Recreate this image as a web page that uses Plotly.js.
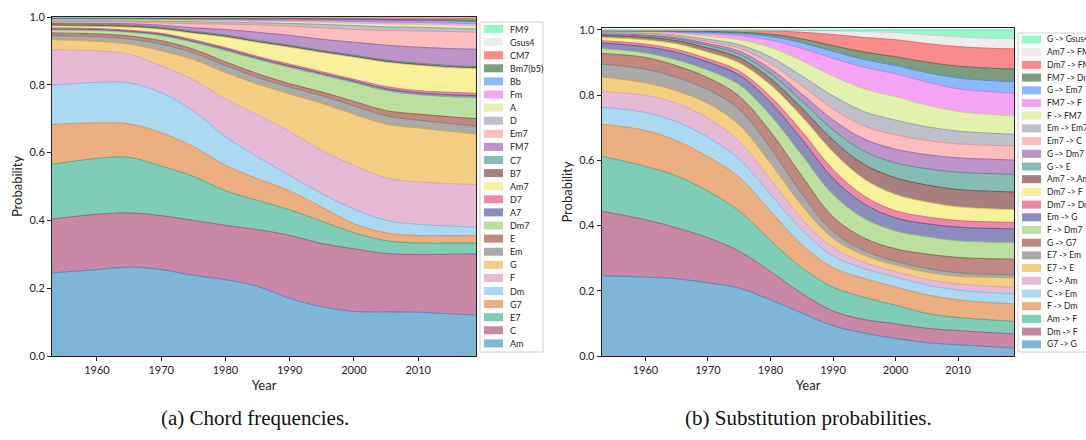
<!DOCTYPE html>
<html><head><meta charset="utf-8">
<script src="https://cdn.plot.ly/plotly-3.0.1.min.js"></script>
<style>html,body{margin:0;padding:0;background:#fff}#chart{width:1086px;height:440px}</style>
</head><body><div id="chart"></div>
<script>
// ---------- shared x values ----------
const years = [1953,1960,1965,1970,1975,1980,1985,1990,1995,2000,2005,2010,2015,2019];

// ---------- (a) Chord frequencies (bottom -> top) ----------
const chordNames = ['Am','C','E7','G7','Dm','F','G','Em','E','Dm7','A7','D7','Am7','B7','C7','FM7','Em7','D','A','Fm','Bb','Bm7(b5)','CM7','Gsus4','FM9'];
const freqAm    = [0.245,0.255,0.262,0.255,0.238,0.225,0.205,0.170,0.146,0.131,0.130,0.129,0.124,0.121];
const freqC     = [0.159,0.163,0.160,0.159,0.162,0.160,0.167,0.186,0.187,0.184,0.172,0.170,0.176,0.180];
const freqE7    = [0.161,0.165,0.164,0.146,0.130,0.102,0.086,0.075,0.066,0.047,0.038,0.034,0.033,0.032];
const freqG7    = [0.118,0.105,0.099,0.099,0.088,0.075,0.064,0.056,0.042,0.027,0.023,0.022,0.022,0.022];
const freqDm    = [0.116,0.119,0.121,0.118,0.105,0.084,0.064,0.045,0.040,0.043,0.037,0.033,0.028,0.025];
const freqF     = [0.104,0.093,0.084,0.079,0.092,0.111,0.124,0.130,0.128,0.128,0.125,0.125,0.125,0.126];
const freqG     = [0.030,0.028,0.030,0.044,0.059,0.078,0.090,0.111,0.139,0.150,0.158,0.159,0.154,0.148];
const freqEm    = [0.012,0.014,0.015,0.020,0.020,0.021,0.020,0.020,0.023,0.025,0.025,0.023,0.023,0.024];
const freqE     = [0.008,0.008,0.009,0.010,0.011,0.011,0.011,0.010,0.011,0.013,0.015,0.018,0.020,0.022];
const freqDm7   = [0.009,0.010,0.011,0.015,0.020,0.033,0.042,0.048,0.050,0.055,0.059,0.057,0.059,0.062];
const freqA7    = [0.003,0.003,0.003,0.004,0.004,0.005,0.005,0.005,0.005,0.005,0.006,0.006,0.006,0.006];
const freqD7    = [0.003,0.003,0.003,0.003,0.004,0.004,0.004,0.005,0.005,0.005,0.006,0.006,0.007,0.007];
const freqAm7   = [0.006,0.006,0.009,0.012,0.019,0.031,0.041,0.050,0.057,0.065,0.072,0.075,0.073,0.073];
const freqB7    = [0.003,0.003,0.003,0.003,0.003,0.003,0.003,0.003,0.003,0.003,0.003,0.003,0.003,0.003];
const freqC7    = [0.003,0.003,0.003,0.003,0.003,0.003,0.003,0.003,0.003,0.003,0.003,0.003,0.003,0.003];
const freqFM7   = [0.002,0.003,0.004,0.006,0.010,0.016,0.024,0.029,0.033,0.038,0.044,0.047,0.050,0.051];
const freqEm7   = [0.003,0.004,0.005,0.007,0.012,0.016,0.022,0.027,0.034,0.038,0.043,0.048,0.050,0.050];
const freqD     = [0.004,0.004,0.004,0.005,0.006,0.006,0.006,0.008,0.010,0.011,0.011,0.011,0.010,0.010];
const freqA     = [0.003,0.003,0.003,0.003,0.004,0.004,0.004,0.005,0.006,0.007,0.008,0.008,0.009,0.009];
const freqFm    = [0.002,0.002,0.002,0.002,0.002,0.003,0.003,0.004,0.005,0.005,0.006,0.006,0.006,0.006];
const freqBb    = [0.002,0.002,0.002,0.002,0.002,0.002,0.003,0.003,0.003,0.004,0.005,0.005,0.006,0.006];
const freqBm7b5 = [0.001,0.001,0.001,0.002,0.002,0.002,0.003,0.003,0.003,0.003,0.003,0.003,0.004,0.004];
const freqCM7   = [0.001,0.001,0.001,0.001,0.002,0.002,0.002,0.002,0.003,0.003,0.004,0.004,0.004,0.005];
const freqGsus4 = [0.001,0.001,0.001,0.001,0.001,0.001,0.001,0.001,0.001,0.002,0.002,0.002,0.002,0.003];
const freqFM9   = [0.001,0.001,0.001,0.001,0.001,0.001,0.001,0.001,0.001,0.001,0.001,0.002,0.002,0.002];
const chordSeries = [freqAm,freqC,freqE7,freqG7,freqDm,freqF,freqG,freqEm,freqE,freqDm7,freqA7,freqD7,freqAm7,freqB7,freqC7,freqFM7,freqEm7,freqD,freqA,freqFm,freqBb,freqBm7b5,freqCM7,freqGsus4,freqFM9];

// ---------- (b) Substitution probabilities (bottom -> top) ----------
const subNames = ['G7 -> G','Dm -> F','Am -> F','F -> Dm','C -> Em','C -> Am','E7 -> E','E7 -> Em','G -> G7','F -> Dm7','Em -> G','Dm7 -> Dm','Dm7 -> F','Am7 -> Am','G -> E','G -> Dm7','Em7 -> C','Em -> Em7','F -> FM7','FM7 -> F','G -> Em7','FM7 -> Dm','Dm7 -> FM7','Am7 -> FM7','G -> Gsus4'];
const subG7_G    = [0.246,0.242,0.237,0.224,0.208,0.172,0.131,0.093,0.070,0.054,0.041,0.034,0.029,0.024];
const subDm_F    = [0.198,0.176,0.156,0.138,0.113,0.087,0.060,0.045,0.042,0.045,0.044,0.044,0.043,0.044];
const subAm_F    = [0.169,0.164,0.159,0.143,0.123,0.095,0.078,0.073,0.068,0.057,0.046,0.040,0.039,0.038];
const subF_Dm    = [0.098,0.110,0.108,0.105,0.104,0.090,0.070,0.060,0.058,0.056,0.057,0.054,0.053,0.054];
const subC_Em    = [0.052,0.055,0.058,0.060,0.055,0.052,0.045,0.036,0.030,0.030,0.030,0.030,0.030,0.031];
const subC_Am    = [0.048,0.053,0.057,0.058,0.055,0.045,0.035,0.026,0.019,0.017,0.017,0.019,0.020,0.020];
const subE7_E    = [0.045,0.038,0.038,0.045,0.050,0.050,0.040,0.028,0.022,0.020,0.022,0.023,0.027,0.028];
const subE7_Em   = [0.039,0.042,0.041,0.043,0.048,0.046,0.036,0.021,0.015,0.012,0.012,0.011,0.010,0.010];
const subG_G7    = [0.033,0.036,0.036,0.036,0.040,0.050,0.054,0.045,0.038,0.038,0.044,0.047,0.047,0.048];
const subF_Dm7   = [0.015,0.014,0.018,0.023,0.035,0.050,0.064,0.068,0.060,0.055,0.053,0.051,0.051,0.050];
const subEm_G    = [0.017,0.019,0.023,0.025,0.030,0.040,0.048,0.050,0.045,0.040,0.040,0.042,0.042,0.043];
const subDm7_Dm  = [0.007,0.008,0.009,0.010,0.012,0.018,0.024,0.027,0.024,0.022,0.021,0.020,0.020,0.020];
const subDm7_F   = [0.010,0.013,0.017,0.020,0.025,0.035,0.045,0.054,0.052,0.050,0.046,0.042,0.040,0.039];
const subAm7_Am  = [0.006,0.008,0.010,0.013,0.016,0.020,0.026,0.036,0.045,0.051,0.052,0.053,0.054,0.054];
const subG_E     = [0.003,0.004,0.005,0.008,0.011,0.016,0.022,0.032,0.040,0.046,0.050,0.053,0.054,0.054];
const subG_Dm7   = [0.003,0.003,0.004,0.006,0.009,0.014,0.021,0.030,0.038,0.042,0.043,0.044,0.044,0.044];
const subEm7_C   = [0.002,0.003,0.004,0.006,0.009,0.016,0.025,0.034,0.040,0.044,0.044,0.043,0.043,0.043];
const subEm_Em7  = [0.002,0.003,0.004,0.007,0.011,0.020,0.030,0.040,0.044,0.045,0.042,0.039,0.037,0.036];
const subF_FM7   = [0.002,0.003,0.005,0.009,0.015,0.029,0.046,0.060,0.070,0.072,0.066,0.060,0.057,0.056];
const subFM7_F   = [0.001,0.002,0.004,0.008,0.013,0.023,0.038,0.055,0.066,0.071,0.071,0.070,0.070,0.070];
const subG_Em7   = [0.001,0.001,0.002,0.004,0.006,0.011,0.017,0.021,0.024,0.025,0.029,0.033,0.034,0.035];
const subFM7_Dm  = [0.001,0.001,0.002,0.003,0.004,0.007,0.012,0.018,0.023,0.027,0.032,0.036,0.038,0.039];
const subDm7_FM7 = [0.001,0.001,0.002,0.003,0.005,0.010,0.020,0.034,0.045,0.052,0.057,0.060,0.061,0.062];
const subAm7_FM7 = [0.0005,0.001,0.0007,0.001,0.0015,0.002,0.005,0.011,0.018,0.022,0.027,0.030,0.031,0.032];
const subG_Gsus4 = [0.0005,0.0005,0.0003,0.0005,0.0005,0.001,0.002,0.003,0.005,0.008,0.015,0.021,0.025,0.026];
const subSeries = [subG7_G,subDm_F,subAm_F,subF_Dm,subC_Em,subC_Am,subE7_E,subE7_Em,subG_G7,subF_Dm7,subEm_G,subDm7_Dm,subDm7_F,subAm7_Am,subG_E,subG_Dm7,subEm7_C,subEm_Em7,subF_FM7,subFM7_F,subG_Em7,subFM7_Dm,subDm7_FM7,subAm7_FM7,subG_Gsus4];

// ---------- styling ----------
const fills = ['#7fb5d7','#c887a4','#7fcdb6','#ebae80','#abd9f2','#e6bad5','#f2cd82','#a9a9a9','#c0897f','#bbdf9f',
               '#8b8bbd','#eb8aa6','#f8f19c','#a87e7e','#85bcb5','#bd94c9','#fcbdbd','#bfbfc9','#e2f2ae','#f5a3f5',
               '#8cb9fb','#7e9c7e','#fa8b8b','#ececec','#95f8c6'];
const lines = ['#3a78b0','#94486f','#4a9a70','#cf8650','#74aedb','#d297ba','#cf9f3f','#747474','#854a41','#86b665',
               '#45458a','#c65275','#d2c657','#5e3838','#3f7d75','#84559b','#e08686','#8a8a9e','#bcd27a','#d565d5',
               '#4480d6','#3f5f3f','#d45252','#c8c8c8','#58d494'];
const FONT = 'Lato,"Open Sans",sans-serif';
const W = 1086, H = 440;
const px = v => v / W, py = v => 1 - v / H;

const traces = [];
function addStack(names, series, xa, ya, group) {
  series.forEach((vals, i) => {
    const t = {
      type: 'scatter', mode: 'lines', x: years, y: vals, name: names[i],
      xaxis: xa, yaxis: ya, stackgroup: group,
      line: {color: lines[i], width: 0.8, shape: 'spline', smoothing: 1},
      fillcolor: fills[i], showlegend: false, hoverinfo: 'skip'
    };
    if (i === 0) t.groupnorm = 'fraction';
    traces.push(t);
  });
}
addStack(chordNames, chordSeries, 'x', 'y', 'a');
addStack(subNames, subSeries, 'x2', 'y2', 'b');

function axisBase() {
  return {
    showline: true, mirror: true, linecolor: '#222', linewidth: 1,
    ticks: 'outside', ticklen: 4, tickwidth: 1, tickcolor: '#222',
    showgrid: false, zeroline: false, automargin: false,
    tickfont: {family: FONT, size: 11, color: '#222'}
  };
}
const titleFont = {family: FONT, size: 13, color: '#222'};
const xA = Object.assign(axisBase(), {domain: [px(52), px(476)], range: [1953, 2019], anchor: 'y',
  tickvals: [1960,1970,1980,1990,2000,2010], title: {text: 'Year', font: titleFont, standoff: 5}});
const yA = Object.assign(axisBase(), {domain: [py(356), py(17)], range: [0, 1], anchor: 'x',
  tickvals: [0,0.2,0.4,0.6,0.8,1.0], tickformat: '.1f', title: {text: 'Probability', font: titleFont, standoff: 3}});
const xB = Object.assign(axisBase(), {domain: [px(601.7), px(1014.3)], range: [1953, 2019], anchor: 'y2',
  tickvals: [1960,1970,1980,1990,2000,2010], title: {text: 'Year', font: titleFont, standoff: 5}});
const yB = Object.assign(axisBase(), {domain: [py(356), py(28)], range: [0, 1.006], anchor: 'x2',
  tickvals: [0,0.2,0.4,0.6,0.8,1.0], tickformat: '.1f', title: {text: 'Probability', font: titleFont, standoff: 3}});

const shapes = [], annotations = [];
function addLegend(names, x0, x1, top, bottom, firstY, step, swL, swR, textX, fsize) {
  shapes.push({type: 'rect', xref: 'paper', yref: 'paper', x0: px(x0), x1: px(x1), y0: py(bottom), y1: py(top),
    line: {color: '#d0d0d0', width: 1}, fillcolor: '#ffffff', layer: 'above'});
  const n = names.length;
  for (let k = 0; k < n; k++) {
    const i = n - 1 - k;
    const yc = firstY + step * k;
    shapes.push({type: 'rect', xref: 'paper', yref: 'paper', x0: px(swL), x1: px(swR), y0: py(yc + 4), y1: py(yc - 4),
      line: {width: 0}, fillcolor: fills[i], layer: 'above'});
    annotations.push({xref: 'paper', yref: 'paper', x: px(textX), y: py(yc), xanchor: 'left', yanchor: 'middle',
      text: names[i], showarrow: false, font: {family: FONT, size: fsize, color: '#222'}});
  }
}
addLegend(chordNames, 480, 543, 22, 352, 29, 13.1, 484, 503, 508, 9);
addLegend(subNames, 1018, 1100, 33, 352, 39.5, 12.7, 1022, 1041, 1045, 8.5);

const capFont = {family: '"Liberation Serif","DejaVu Serif",serif', size: 21, color: '#111'};
annotations.push({xref: 'paper', yref: 'paper', x: px(255), y: py(418), xanchor: 'center', yanchor: 'middle',
  text: '(a) Chord frequencies.', showarrow: false, font: capFont});
annotations.push({xref: 'paper', yref: 'paper', x: px(808), y: py(418), xanchor: 'center', yanchor: 'middle',
  text: '(b) Substitution probabilities.', showarrow: false, font: capFont});

const layout = {
  width: W, height: H, margin: {l: 0, r: 0, t: 0, b: 0},
  paper_bgcolor: '#ffffff', plot_bgcolor: '#ffffff', showlegend: false,
  xaxis: xA, yaxis: yA, xaxis2: xB, yaxis2: yB,
  shapes: shapes, annotations: annotations
};
Plotly.newPlot('chart', traces, layout, {staticPlot: true, displayModeBar: false});
</script>
</body></html>
